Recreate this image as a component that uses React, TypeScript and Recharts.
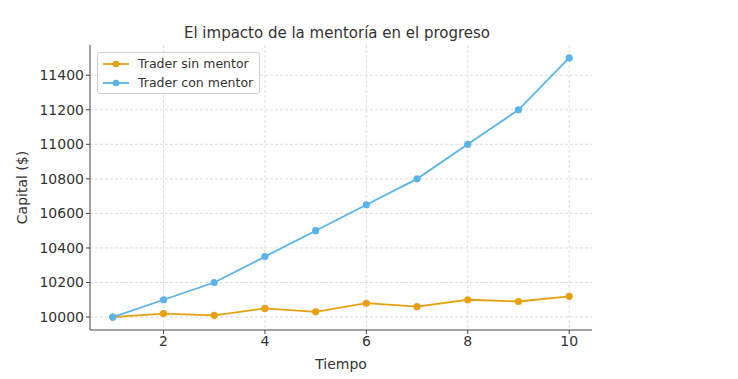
import React from "react";
import { LineChart, Line, XAxis, YAxis, CartesianGrid } from "recharts";

const tiempo = [1, 2, 3, 4, 5, 6, 7, 8, 9, 10];
const sinMentor = [10000, 10020, 10010, 10050, 10030, 10080, 10060, 10100, 10090, 10120];
const conMentor = [10000, 10100, 10200, 10350, 10500, 10650, 10800, 11000, 11200, 11500];
const xTicks = [2, 4, 6, 8, 10];
const yTicks = [10000, 10200, 10400, 10600, 10800, 11000, 11200, 11400];
const seriesNames = ["Trader sin mentor", "Trader con mentor"];

const data = tiempo.map((t, i) => ({ t, sin: sinMentor[i], con: conMentor[i] }));

const ORANGE = "#E8A010";
const BLUE = "#5BB4E8";
const FONT = "'DejaVu Sans', sans-serif";

const LegendBox = () => {
  const items = [
    { label: seriesNames[0], color: ORANGE },
    { label: seriesNames[1], color: BLUE },
  ];
  return (
    <div
      style={{
        position: "absolute",
        left: 97,
        top: 52,
        border: "1px solid #d0d0d0",
        borderRadius: 3,
        background: "rgba(255,255,255,0.85)",
        padding: "1px 6px 1px 4px",
        fontFamily: FONT,
        fontSize: 12.5,
        color: "#333",
        zIndex: 2,
      }}
    >
      {items.map((it) => (
        <div key={it.label} style={{ display: "flex", alignItems: "center", height: 19 }}>
          <svg width={28} height={10} style={{ marginRight: 8 }}>
            <line x1={1} y1={5} x2={27} y2={5} stroke={it.color} strokeWidth={1.8} />
            <circle cx={14} cy={5} r={3.3} fill={it.color} />
          </svg>
          <span>{it.label}</span>
        </div>
      ))}
    </div>
  );
};

export default function App() {
  return (
    <div style={{ position: "absolute", left: 0, top: 0, width: 738, height: 379, background: "#fff" }}>
      <div
        style={{
          position: "absolute",
          left: 86,
          width: 502,
          top: 24,
          textAlign: "center",
          fontFamily: FONT,
          fontSize: 15,
          color: "#333",
        }}
      >
        El impacto de la mentoría en el progreso
      </div>
      <LineChart
        width={738}
        height={379}
        data={data}
        margin={{ top: 45, right: 146, bottom: 0, left: 0 }}
      >
        <CartesianGrid stroke="#d6d6d6" strokeDasharray="3 2" strokeWidth={0.8} syncWithTicks />
        <XAxis
          dataKey="t"
          type="number"
          domain={[0.55, 10.45]}
          ticks={xTicks}
          allowDataOverflow
          height={49}
          stroke="#444"
          tickSize={4}
          tick={{ fill: "#333", fontSize: 14, fontFamily: FONT }}
          tickMargin={2}
          label={{ value: "Tiempo", position: "insideBottom", offset: 10, fill: "#333", fontSize: 14, fontFamily: FONT }}
        />
        <YAxis
          type="number"
          domain={[9925, 11575]}
          ticks={yTicks}
          allowDataOverflow
          width={90}
          stroke="#444"
          tickSize={4}
          tick={{ fill: "#333", fontSize: 14, fontFamily: FONT }}
          tickMargin={2}
          label={{ value: "Capital ($)", angle: -90, position: "insideLeft", offset: 22, fill: "#333", fontSize: 14, fontFamily: FONT, style: { textAnchor: "middle" } }}
        />
        <Line
          dataKey="sin"
          name={seriesNames[0]}
          stroke={ORANGE}
          strokeWidth={1.8}
          dot={{ r: 3.6, fill: ORANGE, stroke: ORANGE, strokeWidth: 0 }}
          isAnimationActive={false}
        />
        <Line
          dataKey="con"
          name={seriesNames[1]}
          stroke={BLUE}
          strokeWidth={1.8}
          dot={{ r: 3.6, fill: BLUE, stroke: BLUE, strokeWidth: 0 }}
          isAnimationActive={false}
        />
      </LineChart>
      <LegendBox />
    </div>
  );
}
